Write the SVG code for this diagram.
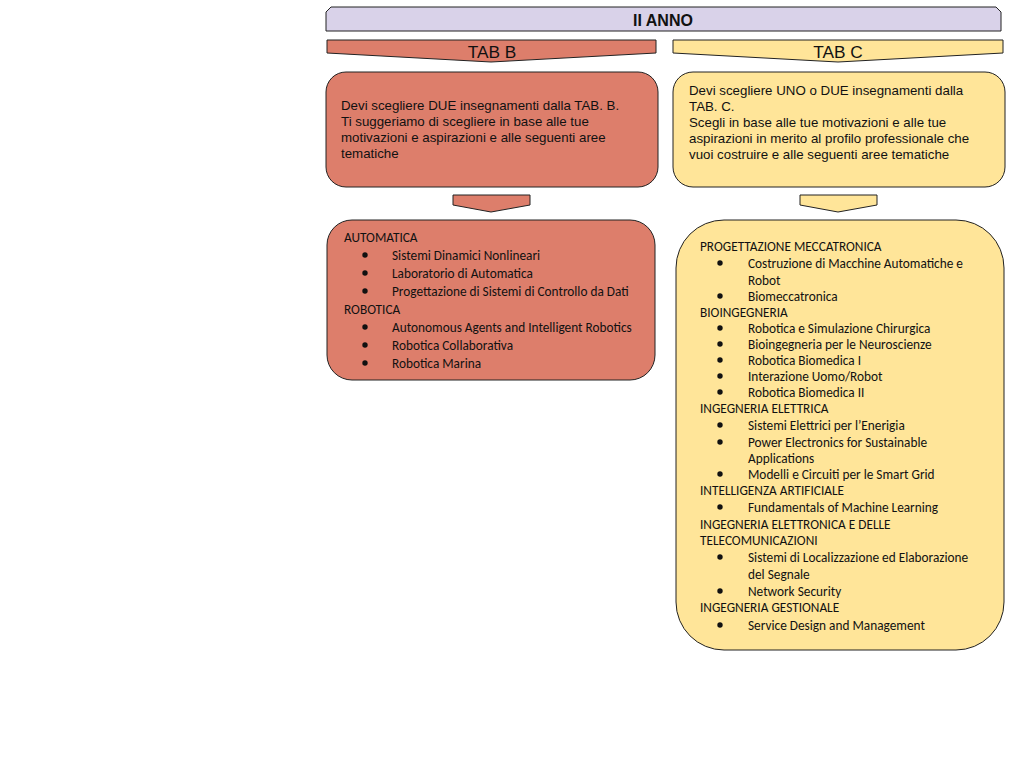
<svg xmlns="http://www.w3.org/2000/svg" width="1024" height="768" viewBox="0 0 1024 768">
<style>
.sh{stroke:#222;stroke-width:1}
.red{fill:#dd7e6b}
.yel{fill:#ffe599}
.hdr{fill:#d9d2e9}
.ar{font-family:"Liberation Sans",Arial,sans-serif;fill:#111}
.cal{font-family:Carlito,Lato,"Open Sans",sans-serif;font-size:13.3px;fill:#111}
.b{fill:#111}
</style>
<rect width="1024" height="768" fill="#fff"/>
<g id="header">
<path class="sh hdr" d="M331,7 L996,7 L1001,12 L1001,31 L326,31 L326,12 Z"/>
<text class="ar" x="663" y="26" font-size="16" font-weight="bold" text-anchor="middle">II ANNO</text>
</g>
<g id="tabB">
<path class="sh red" d="M327,40 L656,40 L656,53 L491,62 L327,53 Z"/>
<text class="ar" x="492" y="58" font-size="17.3" text-anchor="middle">TAB B</text>
</g>
<g id="tabC">
<path class="sh yel" d="M673,40 L1003,40 L1003,53 L838,62 L673,53 Z"/>
<text class="ar" x="838" y="58" font-size="17.3" text-anchor="middle">TAB C</text>
</g>
<g id="boxB1">
<rect class="sh red" x="326" y="72" width="332" height="115" rx="20"/>
<text class="ar" font-size="13.3">
<tspan x="341" y="110">Devi scegliere DUE insegnamenti dalla TAB. B.</tspan>
<tspan x="341" y="126">Ti suggeriamo di scegliere in base alle tue</tspan>
<tspan x="341" y="142">motivazioni e aspirazioni e alle seguenti aree</tspan>
<tspan x="341" y="158">tematiche</tspan>
</text>
</g>
<g id="boxC1">
<rect class="sh yel" x="673" y="72" width="332" height="115" rx="20"/>
<text class="ar" font-size="13.3">
<tspan x="689" y="95">Devi scegliere UNO o DUE  insegnamenti dalla</tspan>
<tspan x="689" y="111">TAB. C.</tspan>
<tspan x="689" y="127">Scegli in base alle tue motivazioni e alle tue</tspan>
<tspan x="689" y="143">aspirazioni in merito al profilo professionale che</tspan>
<tspan x="689" y="159">vuoi costruire e alle seguenti aree tematiche</tspan>
</text>
</g>
<g id="connectors">
<path class="sh red" d="M453,195 L530,195 L530,205 L491,212 L453,205 Z"/>
<path class="sh yel" d="M800,195 L877,195 L877,205 L838,212 L800,205 Z"/>
</g>
<g id="boxB2">
<rect class="sh red" x="327" y="220" width="328" height="160" rx="25"/>
<text class="cal">
<tspan x="344" y="242">AUTOMATICA</tspan>
<tspan x="392" y="260">Sistemi Dinamici Nonlineari</tspan>
<tspan x="392" y="278">Laboratorio di Automatica</tspan>
<tspan x="392" y="296">Progettazione di Sistemi di Controllo da Dati</tspan>
<tspan x="344" y="314">ROBOTICA</tspan>
<tspan x="392" y="332">Autonomous Agents and Intelligent Robotics</tspan>
<tspan x="392" y="350">Robotica Collaborativa</tspan>
<tspan x="392" y="368">Robotica Marina</tspan>
</text>
<g class="b">
<circle cx="365" cy="255" r="2.7"/><circle cx="365" cy="273" r="2.7"/><circle cx="365" cy="291" r="2.7"/>
<circle cx="365" cy="327" r="2.7"/><circle cx="365" cy="345" r="2.7"/><circle cx="365" cy="363" r="2.7"/>
</g>
</g>
<g id="boxC2">
<rect class="sh yel" x="676" y="220" width="328" height="430" rx="48"/>
<text class="cal">
<tspan x="700" y="251">PROGETTAZIONE MECCATRONICA</tspan>
<tspan x="748" y="268">Costruzione di Macchine Automatiche e</tspan>
<tspan x="748" y="285">Robot</tspan>
<tspan x="748" y="301">Biomeccatronica</tspan>
<tspan x="700" y="317">BIOINGEGNERIA</tspan>
<tspan x="748" y="333">Robotica e Simulazione Chirurgica</tspan>
<tspan x="748" y="349">Bioingegneria per le Neuroscienze</tspan>
<tspan x="748" y="365">Robotica Biomedica I</tspan>
<tspan x="748" y="381">Interazione Uomo/Robot</tspan>
<tspan x="748" y="397">Robotica Biomedica II</tspan>
<tspan x="700" y="413">INGEGNERIA ELETTRICA</tspan>
<tspan x="748" y="430">Sistemi Elettrici per l’Enerigia</tspan>
<tspan x="748" y="447">Power Electronics for Sustainable</tspan>
<tspan x="748" y="463">Applications</tspan>
<tspan x="748" y="479">Modelli e Circuiti per le Smart Grid</tspan>
<tspan x="700" y="495">INTELLIGENZA ARTIFICIALE</tspan>
<tspan x="748" y="512">Fundamentals of Machine Learning</tspan>
<tspan x="700" y="529">INGEGNERIA ELETTRONICA E DELLE</tspan>
<tspan x="700" y="545">TELECOMUNICAZIONI</tspan>
<tspan x="748" y="562">Sistemi di Localizzazione ed Elaborazione</tspan>
<tspan x="748" y="579">del Segnale</tspan>
<tspan x="748" y="596">Network Security</tspan>
<tspan x="700" y="612">INGEGNERIA GESTIONALE</tspan>
<tspan x="748" y="630">Service Design and Management</tspan>
</text>
<g class="b">
<circle cx="720" cy="263" r="2.7"/><circle cx="720" cy="296" r="2.7"/>
<circle cx="720" cy="328" r="2.7"/><circle cx="720" cy="344" r="2.7"/><circle cx="720" cy="360" r="2.7"/><circle cx="720" cy="376" r="2.7"/><circle cx="720" cy="392" r="2.7"/>
<circle cx="720" cy="425" r="2.7"/><circle cx="720" cy="442" r="2.7"/><circle cx="720" cy="474" r="2.7"/>
<circle cx="720" cy="507" r="2.7"/>
<circle cx="720" cy="557" r="2.7"/><circle cx="720" cy="591" r="2.7"/>
<circle cx="720" cy="625" r="2.7"/>
</g>
</g>
</svg>
